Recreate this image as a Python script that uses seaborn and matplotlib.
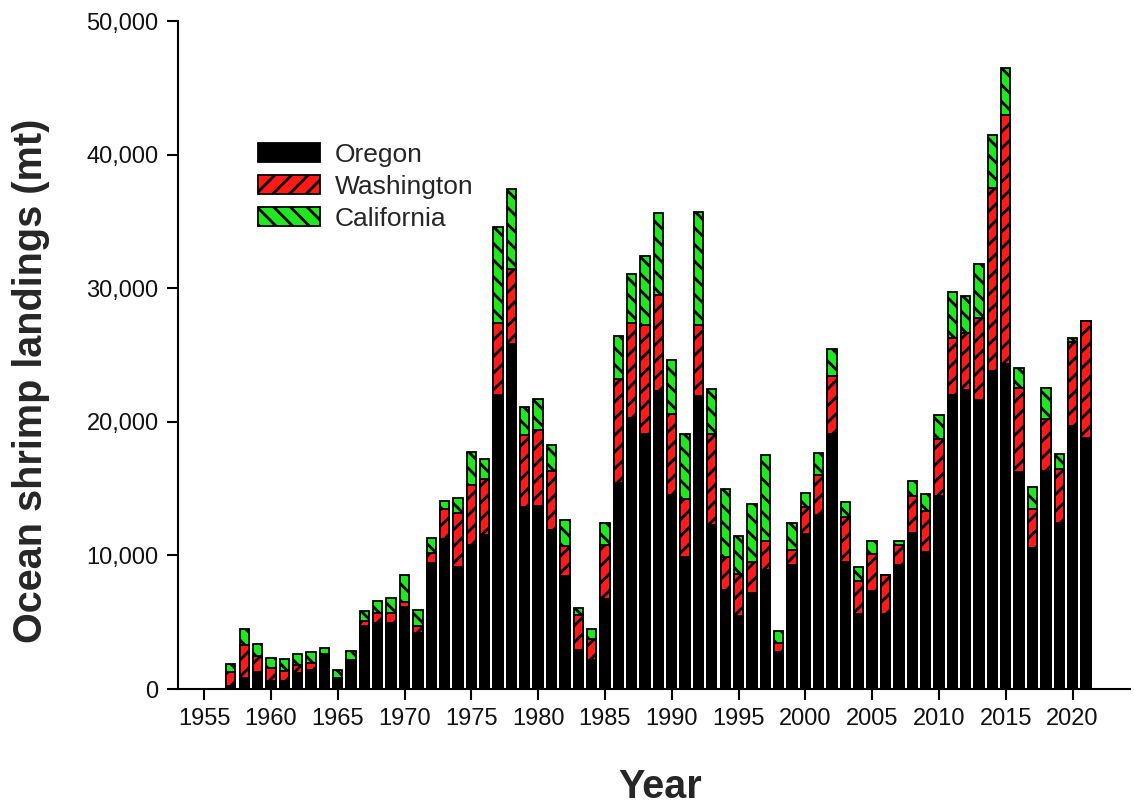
import numpy as np
import pandas as pd
import seaborn as sns
import matplotlib.pyplot as plt
from matplotlib import font_manager
from matplotlib.patches import Patch
from matplotlib.ticker import StrMethodFormatter

# Ocean shrimp landings by state (metric tons)
years = list(range(1957, 2022))
oregon = [200, 800, 1300, 600, 600, 1200, 1400, 2650, 800, 2200,
          4700, 4950, 4950, 6150, 4200, 9450, 11200, 9100, 10800, 11500,
          22000, 25800, 13600, 13700, 11900, 8450, 2950, 2150, 6750, 15400,
          20300, 19100, 22300, 14500, 9900, 21900, 12300, 7400, 5450, 7150,
          8900, 2750, 9250, 11600, 13050, 19100, 9500, 5600, 7300, 5600,
          9300, 11650, 10250, 14450, 22000, 22350, 21600, 23800, 24350, 16250,
          10550, 16350, 12450, 19700, 18800]
washington = [1100, 2500, 1150, 1000, 750, 600, 550, 0, 0, 0,
              400, 750, 750, 400, 500, 750, 2250, 4100, 4500, 4200,
              5400, 5650, 5400, 5700, 4450, 2250, 2600, 1600, 4050, 7800,
              7100, 8150, 7200, 6100, 4350, 5350, 6800, 2500, 3150, 2350,
              2200, 700, 1150, 2000, 2950, 4350, 3400, 2500, 2800, 2900,
              1500, 2800, 3100, 4250, 4300, 4300, 6200, 13700, 18600, 6250,
              2950, 3850, 4000, 6250, 8750]
california = [550, 1200, 950, 700, 900, 850, 800, 400, 600, 650,
              750, 900, 1100, 1950, 1200, 1100, 600, 1100, 2450, 1550,
              7150, 6000, 2100, 2300, 1900, 1950, 550, 750, 1600, 3200,
              3700, 5150, 6100, 4000, 4850, 8450, 3350, 5100, 2850, 4350,
              6400, 900, 2000, 1050, 1700, 2000, 1100, 1000, 950, 0,
              300, 1100, 1250, 1800, 3400, 2750, 4000, 3950, 3550, 1500,
              1600, 2300, 1150, 350, 0]

states = ["Oregon", "Washington", "California"]
colors = {"Oregon": "black", "Washington": "#ff1a1a", "California": "#1fe81f"}
hatches = {"Oregon": "", "Washington": "//", "California": "\\\\"}

df = pd.DataFrame({"year": years, "Oregon": oregon,
                   "Washington": washington, "California": california})
# cumulative tops for stacking (drawn back to front)
df["top_Oregon"] = df["Oregon"]
df["top_Washington"] = df["Oregon"] + df["Washington"]
df["top_California"] = df["top_Washington"] + df["California"]

sns.set_style("ticks")
plt.rcParams["font.family"] = ["Liberation Sans", "DejaVu Sans"]
plt.rcParams["hatch.linewidth"] = 2.0
plt.rcParams["hatch.color"] = "black"


def has_font(name):
    try:
        font_manager.findfont(font_manager.FontProperties(family=name),
                              fallback_to_default=False)
        return True
    except ValueError:
        return False


# axis titles are in a narrow bold face; use one if present
if has_font("Liberation Sans Narrow"):
    label_font = dict(family=["Liberation Sans Narrow", "Liberation Sans"],
                      weight="bold", size=33)
else:
    label_font = dict(family=["Liberation Sans", "DejaVu Sans"],
                      weight="bold", size=28.5)

fig = plt.figure(figsize=(11.34, 8.11), dpi=100)
ax = fig.add_axes([0.157, 0.1504, 0.8395, 0.8237])

for st in ["California", "Washington", "Oregon"]:
    sns.barplot(data=df, x="year", y="top_" + st, native_scale=True,
                width=0.7, color=colors[st], saturation=1, errorbar=None,
                edgecolor="black", linewidth=1.3, hatch=hatches[st], ax=ax)

ax.set_xlim(1953.05, 2024.3)
ax.set_ylim(0, 50000)
ax.set_xticks(range(1955, 2021, 5))
ax.set_yticks(range(0, 50001, 10000))
ax.yaxis.set_major_formatter(StrMethodFormatter("{x:,.0f}"))
ax.tick_params(axis="both", direction="out", length=8, width=1.5,
               labelsize=17, color="black", labelcolor="#111111")
ax.tick_params(axis="x", pad=6)
ax.tick_params(axis="y", pad=6)
for side in ["left", "bottom"]:
    ax.spines[side].set_linewidth(1.5)
    ax.spines[side].set_color("black")
sns.despine(ax=ax)

ax.set_xlabel("Year", **label_font)
ax.set_ylabel("Ocean shrimp landings (mt)", **label_font)
ax.xaxis.set_label_coords(0.506, -0.118)
ax.yaxis.set_label_coords(-0.134, 0.461)

handles = [Patch(facecolor=colors[s], edgecolor="black", hatch=hatches[s],
                 linewidth=1.3) for s in states]
ax.legend(handles, states, loc="upper left",
          bbox_to_anchor=(258 / 1134, 1 - 143 / 811),
          bbox_transform=fig.transFigure, frameon=False, fontsize=19,
          handlelength=2.35, handleheight=0.75, handletextpad=0.57,
          labelspacing=0.3, borderpad=0, borderaxespad=0)

fig.savefig("out.png", dpi=100)
plt.close(fig)
